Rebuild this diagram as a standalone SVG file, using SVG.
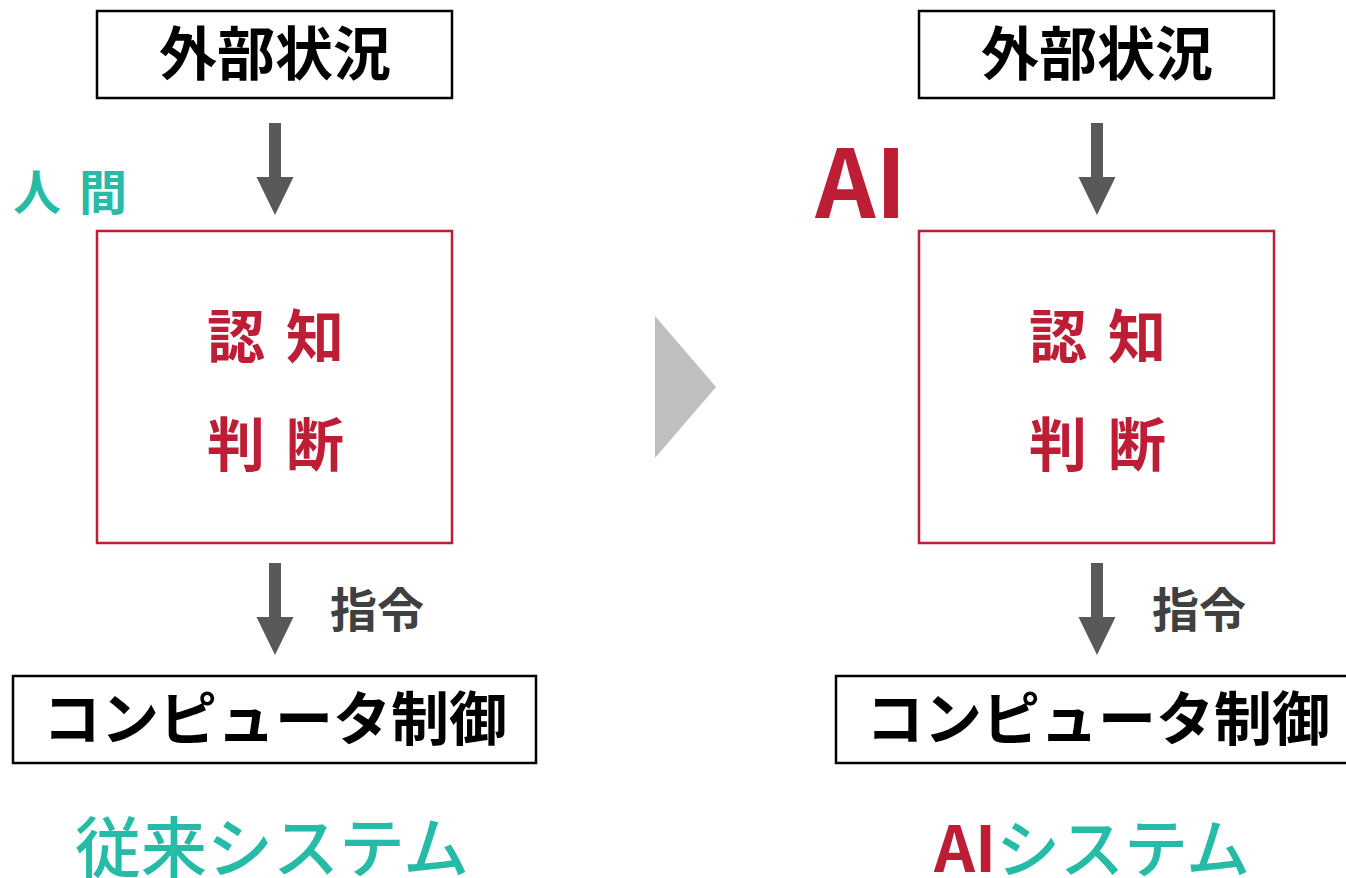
<svg xmlns="http://www.w3.org/2000/svg" width="1346" height="878" viewBox="0 0 1346 878">
<style>
text{font-family:"Noto Sans CJK JP","Noto Sans",sans-serif;dominant-baseline:central;text-anchor:middle}
.bk{fill:#fff;stroke:#000;stroke-width:2.5}
.rd{fill:#fff;stroke:#BE1E35;stroke-width:2.5}
.t1{font-size:58px;font-weight:700;fill:#000}
.t2{font-size:58px;font-weight:700;fill:#BE1E35}
.cmd{font-size:47px;font-weight:700;fill:#404040}
.teal{fill:#26BBA6}
.red{fill:#BE1E35}
.arr{fill:#595959}
</style>
<defs>
<path id="arrow" d="M-6,0 H6 V54 H18.5 L0,92 L-18.5,54 H-6 Z"/>
</defs>
<g id="left">
<g id="l-ext"><rect class="bk" x="97" y="11" width="355" height="87"/><text class="t1" x="275" y="50">外部状況</text></g>
<g id="l-human"><text class="teal" style="font-size:48px;font-weight:700" x="37" y="189">人</text><text class="teal" style="font-size:48px;font-weight:700" x="103" y="189">間</text></g>
<g id="l-brain"><rect class="rd" x="97" y="231" width="355" height="312"/>
<text class="t2" x="236" y="333">認</text><text class="t2" x="315" y="333">知</text>
<text class="t2" x="236" y="441">判</text><text class="t2" x="315" y="441">断</text></g>
<g id="l-ctrl"><rect class="bk" x="13" y="676" width="523" height="87"/><text class="t1" x="275" y="715">コンピュータ制御</text></g>
<g id="l-cmd"><text class="cmd" x="377" y="606">指令</text></g>
<g id="l-title"><text class="teal" style="font-size:66px;font-weight:500" x="272" y="843">従来システム</text></g>
</g>
<g id="right">
<g id="r-ext"><rect class="bk" x="919" y="11" width="355" height="87"/><text class="t1" x="1097" y="50">外部状況</text></g>
<g id="r-ai"><text class="red" style="font-size:94px;font-weight:700;dominant-baseline:alphabetic" x="861" y="218">AI</text></g>
<g id="r-brain"><rect class="rd" x="919" y="231" width="355" height="312"/>
<text class="t2" x="1058" y="333">認</text><text class="t2" x="1137" y="333">知</text>
<text class="t2" x="1058" y="441">判</text><text class="t2" x="1137" y="441">断</text></g>
<g id="r-ctrl"><rect class="bk" x="836" y="676" width="523" height="87"/><text class="t1" x="1098" y="715">コンピュータ制御</text></g>
<g id="r-cmd"><text class="cmd" x="1199" y="606">指令</text></g>
<g id="r-title"><text x="1092" y="844" style="font-size:64px"><tspan class="red" font-weight="700">AI</tspan><tspan class="teal" font-weight="500">システム</tspan></text></g>
</g>
<g id="connectors">
<use href="#arrow" class="arr" x="275" y="123"/>
<use href="#arrow" class="arr" x="275" y="563"/>
<use href="#arrow" class="arr" x="1097" y="123"/>
<use href="#arrow" class="arr" x="1097" y="563"/>
<polygon points="655,316 716,387 655,458" fill="#BFBFBF"/>
</g>
</svg>
